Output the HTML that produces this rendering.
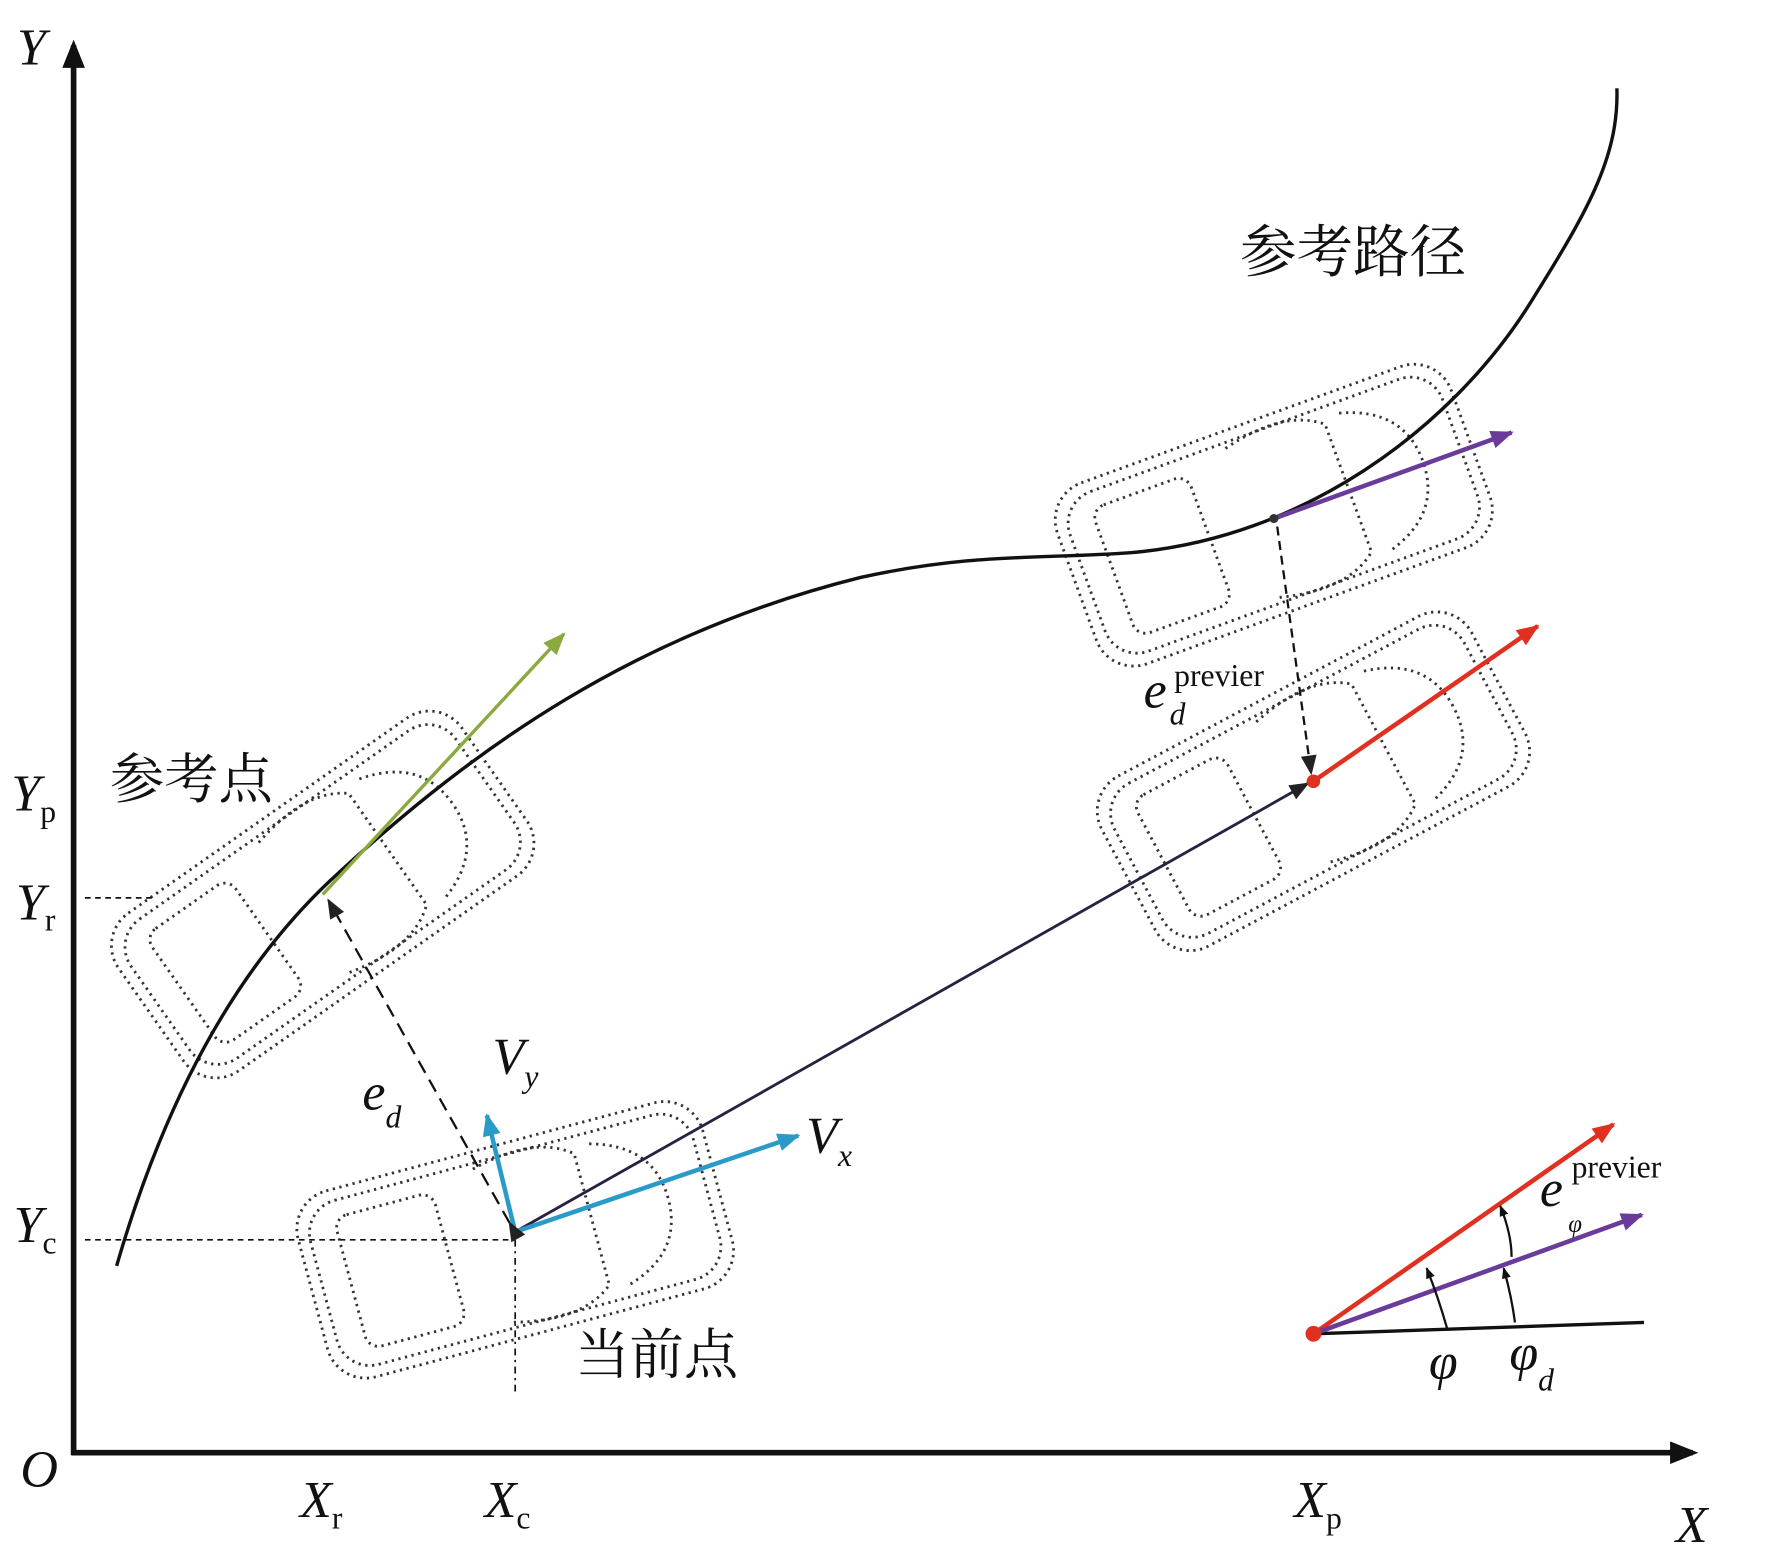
<!DOCTYPE html>
<html><head><meta charset="utf-8"><style>
html,body{margin:0;padding:0;background:#fff}
svg{display:block}
.t{font-family:"Liberation Serif",serif;font-style:italic;fill:#111}
.c{font-family:"Liberation Serif","Noto Serif CJK SC",serif;fill:#111}
.car{fill:none;stroke:#333;stroke-width:2.5;stroke-dasharray:2 4}
</style></head><body>
<svg width="1772" height="1558" viewBox="0 0 1565 1376" preserveAspectRatio="none" xmlns="http://www.w3.org/2000/svg">
<defs>
<marker id="ak" markerWidth="10" markerHeight="8" refX="9" refY="4" orient="auto" markerUnits="userSpaceOnUse"><path d="M0,0 L10,4 L0,8z" fill="#111"/></marker>
<marker id="ab" viewBox="0 0 10 8" markerWidth="22" markerHeight="16" refX="9" refY="4" orient="auto" markerUnits="userSpaceOnUse"><path d="M0,0 L10,4 L0,8z" fill="#2a9ac8"/></marker>
<marker id="ag" viewBox="0 0 10 8" markerWidth="22" markerHeight="16" refX="9" refY="4" orient="auto" markerUnits="userSpaceOnUse"><path d="M0,0 L10,4 L0,8z" fill="#8aaa40"/></marker>
<marker id="ap" viewBox="0 0 10 8" markerWidth="24" markerHeight="16" refX="9" refY="4" orient="auto" markerUnits="userSpaceOnUse"><path d="M0,0 L10,4 L0,8z" fill="#6a3b9a"/></marker>
<marker id="ar" viewBox="0 0 10 8" markerWidth="24" markerHeight="16" refX="9" refY="4" orient="auto" markerUnits="userSpaceOnUse"><path d="M0,0 L10,4 L0,8z" fill="#e03020"/></marker>
<marker id="aK" viewBox="0 0 10 8" markerWidth="22" markerHeight="14" refX="9" refY="4" orient="auto" markerUnits="userSpaceOnUse"><path d="M0,0 L10,4 L0,8z" fill="#222"/></marker>
<marker id="ax" viewBox="0 0 10 8" markerWidth="28" markerHeight="20" refX="8" refY="4" orient="auto" markerUnits="userSpaceOnUse"><path d="M0,0 L10,4 L0,8z" fill="#111"/></marker>
<g id="car">
<rect x="-185" y="-85" width="370" height="170" rx="35" class="car"/>
<rect x="-175" y="-75" width="350" height="150" rx="30" class="car"/>
<rect x="-150" y="-60" width="90" height="120" rx="12" class="car"/>
<path d="M-20,-70 Q40,-85 70,-60 L70,60 Q40,85 -20,70" class="car"/>
<path d="M85,-65 Q140,-50 140,0 Q140,50 85,65" class="car"/>
</g>
</defs>
<use href="#car" transform="translate(285,790) rotate(-35)"/>
<use href="#car" transform="translate(455,1095) rotate(-15)"/>
<use href="#car" transform="translate(1125,455) rotate(-20)"/>
<use href="#car" transform="translate(1160,690) rotate(-28)"/>
<line x1="65" y1="1285" x2="65" y2="40" stroke="#111" stroke-width="5" marker-end="url(#ax)"/>
<line x1="63" y1="1283" x2="1495" y2="1283" stroke="#111" stroke-width="5" marker-end="url(#ax)"/>
<line x1="75" y1="793" x2="135" y2="793" stroke="#111" stroke-width="1.5" stroke-dasharray="5 4"/>
<line x1="75" y1="1095" x2="455" y2="1095" stroke="#111" stroke-width="1.5" stroke-dasharray="5 4"/>
<line x1="455" y1="1095" x2="455" y2="1230" stroke="#111" stroke-width="1.5" stroke-dasharray="6 4 2 4"/>
<path d="M103,1118 C140,990 200,860 300,770 C420,660 560,560 760,510 C860,488 920,494 1000,488 C1150,475 1280,380 1350,270 C1400,190 1430,140 1428,78" fill="none" stroke="#111" stroke-width="3"/>
<line x1="285" y1="790" x2="498" y2="560" stroke="#8aaa40" stroke-width="3" marker-end="url(#ag)"/>
<line x1="455" y1="1088" x2="1155" y2="692" stroke="#2a2040" stroke-width="2.5" marker-end="url(#aK)"/>
<line x1="455" y1="1088" x2="705" y2="1003" stroke="#2a9ac8" stroke-width="4" marker-end="url(#ab)"/>
<line x1="455" y1="1088" x2="430" y2="985" stroke="#2a9ac8" stroke-width="4" marker-end="url(#ab)"/>
<line x1="450" y1="1080" x2="290" y2="795" stroke="#111" stroke-width="2" stroke-dasharray="12 7" marker-end="url(#aK)" marker-start="url(#aK)"/>
<line x1="1125" y1="458" x2="1335" y2="382" stroke="#6a3b9a" stroke-width="4" marker-end="url(#ap)"/>
<circle cx="1125" cy="458" r="4" fill="#333"/>
<line x1="1128" y1="465" x2="1158" y2="683" stroke="#111" stroke-width="2" stroke-dasharray="8 5" marker-end="url(#aK)"/>
<line x1="1160" y1="690" x2="1358" y2="553" stroke="#e03020" stroke-width="4" marker-end="url(#ar)"/>
<circle cx="1160" cy="690" r="6" fill="#e03020"/>
<line x1="1160" y1="1178" x2="1452" y2="1168" stroke="#111" stroke-width="3"/>
<line x1="1160" y1="1178" x2="1425" y2="993" stroke="#e03020" stroke-width="4" marker-end="url(#ar)"/>
<line x1="1160" y1="1178" x2="1450" y2="1073" stroke="#6a3b9a" stroke-width="4" marker-end="url(#ap)"/>
<circle cx="1160" cy="1178" r="7" fill="#e03020"/>
<path d="M1278,1173 Q1270,1145 1260,1120" fill="none" stroke="#111" stroke-width="2" marker-end="url(#ak)"/>
<path d="M1338,1168 Q1335,1145 1328,1120" fill="none" stroke="#111" stroke-width="2" marker-end="url(#ak)"/>
<path d="M1335,1110 Q1335,1090 1325,1065" fill="none" stroke="#111" stroke-width="2" marker-end="url(#ak)"/>
<text class="t" x="15" y="57" font-size="46">Y</text>
<text class="t" x="18" y="1313" font-size="46">O</text>
<text class="t" x="1480" y="1362" font-size="46">X</text>
<text class="t" x="10" y="716" font-size="46">Y<tspan font-style="normal" font-size="28" dy="10">p</tspan></text>
<text class="t" x="14" y="812" font-size="46">Y<tspan font-style="normal" font-size="28" dy="10">r</tspan></text>
<text class="t" x="12" y="1097" font-size="46">Y<tspan font-style="normal" font-size="28" dy="10">c</tspan></text>
<text class="t" x="265" y="1340" font-size="46">X<tspan font-style="normal" font-size="28" dy="10">r</tspan></text>
<text class="t" x="428" y="1340" font-size="46">X<tspan font-style="normal" font-size="28" dy="10">c</tspan></text>
<text class="t" x="1143" y="1340" font-size="46">X<tspan font-style="normal" font-size="28" dy="10">p</tspan></text>
<text class="t" x="320" y="980" font-size="46">e<tspan font-size="28" dy="16">d</tspan></text>
<text class="t" x="435" y="948" font-size="46">V<tspan font-size="28" dy="12">y</tspan></text>
<text class="t" x="712" y="1018" font-size="46">V<tspan font-size="28" dy="12">x</tspan></text>
<text class="t" x="1010" y="625" font-size="46">e</text>
<text class="t" x="1033" y="640" font-size="28">d</text>
<text x="1037" y="606" font-size="28" font-family="Liberation Serif,serif" fill="#111">previer</text>
<text class="t" x="1360" y="1065" font-size="46">e</text>
<text class="t" x="1385" y="1088" font-size="22">φ</text>
<text x="1388" y="1040" font-size="28" font-family="Liberation Serif,serif" fill="#111">previer</text>
<text class="t" x="1262" y="1218" font-size="46">φ</text>
<text class="t" x="1333" y="1210" font-size="46">φ<tspan font-size="28" dy="18">d</tspan></text>
<text class="c" x="1095" y="240" font-size="50">参考路径</text>
<text class="c" x="97" y="705" font-size="48">参考点</text>
<text class="c" x="508" y="1213" font-size="48">当前点</text>
</svg>
</body></html>
